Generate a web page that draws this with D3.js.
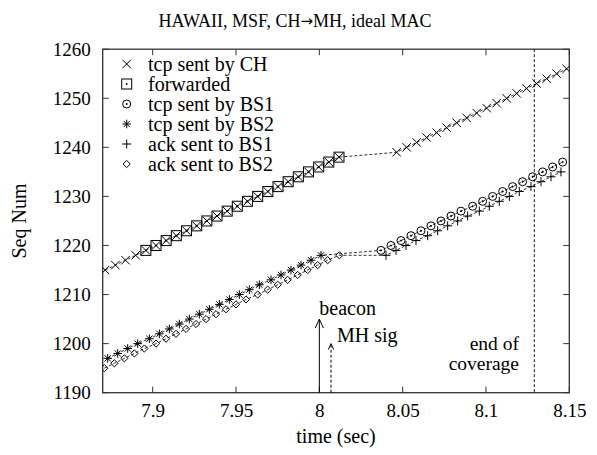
<!DOCTYPE html>
<html><head><meta charset="utf-8">
<script src="https://cdn.jsdelivr.net/npm/d3@7"></script>
<style>body{margin:0;background:#fff}svg{display:block}text{font-family:"Liberation Serif","Times New Roman",serif;fill:#000}</style>
</head><body>
<svg id="c" width="597" height="455"></svg>
<script>
// ---- data ----
const titleParts = ["HAWAII, MSF, CH", "\u2192", "MH, ideal MAC"];
const xTicks = [7.9, 7.95, 8, 8.05, 8.1, 8.15];
const yTicks = [1190, 1200, 1210, 1220, 1230, 1240, 1250, 1260];

const chTime = [7.8715,7.8776,7.8837,7.8898,7.8959,7.9020,7.9081,7.9142,7.9203,7.9264,7.9325,7.9386,7.9447,7.9508,7.9569,7.9630,7.9691,7.9752,7.9813,7.9874,7.9935,7.9996,8.0057,8.0118,
  8.0464,8.0524,8.0584,8.0644,8.0704,8.0764,8.0824,8.0884,8.0944,8.1004,8.1064,8.1124,8.1184,8.1244,8.1304,8.1364,8.1424,8.1484];
const chSeq = [1215,1216,1217,1218,1219,1220,1221,1222,1223,1224,1225,1226,1227,1228,1229,1230,1231,1232,1233,1234,1235,1236,1237,1238,
  1239,1240,1241,1242,1243,1244,1245,1246,1247,1248,1249,1250,1251,1252,1253,1254,1255,1256];

const fwdTime = [7.8959,7.9020,7.9081,7.9142,7.9203,7.9264,7.9325,7.9386,7.9447,7.9508,7.9569,7.9630,7.9691,7.9752,7.9813,7.9874,7.9935,7.9996,8.0057,8.0118];
const fwdSeq = [1219,1220,1221,1222,1223,1224,1225,1226,1227,1228,1229,1230,1231,1232,1233,1234,1235,1236,1237,1238];

const bs1Time = [8.037,8.043,8.049,8.055,8.061,8.067,8.073,8.079,8.085,8.092,8.098,8.104,8.110,8.116,8.122,8.128,8.134,8.140,8.146];
const bs1Seq = [1219,1220,1221,1222,1223,1224,1225,1226,1227,1228,1229,1230,1231,1232,1233,1234,1235,1236,1237];

const bs2Time = [7.873,7.879,7.885,7.891,7.898,7.904,7.910,7.916,7.922,7.928,7.934,7.940,7.946,7.952,7.958,7.964,7.971,7.977,7.983,7.989,7.995,8.001];
const bs2Seq = [1197,1198,1199,1200,1201,1202,1203,1204,1205,1206,1207,1208,1209,1210,1211,1212,1213,1214,1215,1216,1217,1218];

const ack1Time = [8.040,8.046,8.052,8.058,8.065,8.071,8.077,8.083,8.089,8.096,8.102,8.108,8.114,8.120,8.127,8.133,8.139,8.145];
const ack1Seq = [1218,1219,1220,1221,1222,1223,1224,1225,1226,1227,1228,1229,1230,1231,1232,1233,1234,1235];

const ack2Time = [7.871,7.877,7.883,7.889,7.895,7.902,7.908,7.914,7.920,7.926,7.932,7.938,7.944,7.950,7.956,7.963,7.969,7.975,7.981,7.987,7.993,7.999,8.005,8.012];
const ack2Seq = [1195,1196,1197,1198,1199,1200,1201,1202,1203,1204,1205,1206,1207,1208,1209,1210,1211,1212,1213,1214,1215,1216,1217,1218];

const beacon = {t: 8.0, top: 1205, label: "beacon"};
const mhSig = {t: 8.007, top: 1200, label: "MH sig"};
const endCoverage = {t: 8.129, label: ["end of", "coverage"]};

const legendLabels = ["tcp sent by CH","forwarded","tcp sent by BS1","tcp sent by BS2","ack sent to BS1","ack sent to BS2"];

// ---- layout ----
const L = 102.7, R = 569.3, T = 49.2, B = 392.7;
const x = d3.scaleLinear().domain([7.87, 8.15]).range([L, R]);
const y = d3.scaleLinear().domain([1190, 1260]).range([B, T]);
const svg = d3.select("#c");
const zip = (a, b) => a.map((v, i) => [v, b[i]]);

// title & labels
const tt = svg.append("text").attr("x", 295).attr("y", 27).attr("text-anchor", "middle").attr("font-size", 18);
tt.append("tspan").text(titleParts[0]);
tt.append("tspan").attr("font-family", "DejaVu Sans").attr("font-size", 15).attr("dy", -1).text(titleParts[1]);
tt.append("tspan").attr("dy", 1).text(titleParts[2]);
svg.append("text").attr("x", 336).attr("y", 443).attr("text-anchor", "middle").attr("font-size", 20).text("time (sec)");
svg.append("text").attr("transform", "translate(26,221) rotate(-90)").attr("text-anchor", "middle").attr("font-size", 20).text("Seq Num");

// axes
const fmt = d => String(+d.toFixed(2));
const gx = svg.append("g").attr("transform", `translate(0,${B})`).call(d3.axisBottom(x).tickValues(xTicks).tickSize(0).tickPadding(11).tickFormat(fmt));
gx.selectAll("text").attr("font-size", 19).attr("font-family", "Liberation Serif").attr("dy", "0.71em");
gx.select(".domain").remove();
const gy = svg.append("g").attr("transform", `translate(${L},0)`).call(d3.axisLeft(y).tickValues(yTicks).tickSize(0).tickPadding(12).tickFormat(d3.format("d")));
gy.selectAll("text").attr("font-size", 19).attr("font-family", "Liberation Serif");
gy.select(".domain").remove();

const tickLen = 6, frameCol = "#333";
const tk = svg.append("g").attr("stroke", frameCol).attr("stroke-width", 1);
xTicks.forEach(v => {
  tk.append("line").attr("x1", x(v)).attr("x2", x(v)).attr("y1", B).attr("y2", B - tickLen);
  tk.append("line").attr("x1", x(v)).attr("x2", x(v)).attr("y1", T).attr("y2", T + tickLen);
});
yTicks.forEach(v => {
  tk.append("line").attr("x1", L).attr("x2", L + tickLen).attr("y1", y(v)).attr("y2", y(v));
  tk.append("line").attr("x1", R).attr("x2", R - tickLen).attr("y1", y(v)).attr("y2", y(v));
});
svg.append("rect").attr("x", L).attr("y", T).attr("width", R - L).attr("height", B - T)
  .attr("fill", "none").attr("stroke", frameCol).attr("stroke-width", 1.3);

// lines
const line = d3.line().x(d => x(d[0])).y(d => y(d[1]));
const dash = "3,2";
const plot = svg.append("g");
[zip(chTime, chSeq), zip(bs2Time.concat(bs1Time), bs2Seq.concat(bs1Seq)), zip(ack2Time.concat(ack1Time), ack2Seq.concat(ack1Seq))]
  .forEach(pts => plot.append("path").attr("d", line(pts)).attr("fill", "none").attr("stroke", "#000").attr("stroke-width", 0.8).attr("stroke-dasharray", dash));

// vertical markers
plot.append("line").attr("x1", x(endCoverage.t)).attr("x2", x(endCoverage.t)).attr("y1", T).attr("y2", B)
  .attr("stroke", "#000").attr("stroke-width", 0.9).attr("stroke-dasharray", dash);
function arrow(a, dashed, head) {
  const xx = x(a.t), yt = y(a.top);
  const g = plot.append("g").attr("stroke", "#000").attr("fill", "none").attr("stroke-width", 1);
  g.append("line").attr("x1", xx).attr("x2", xx).attr("y1", B).attr("y2", yt).attr("stroke-dasharray", dashed ? dash : null);
  g.append("path").attr("d", `M${xx - head * 0.45},${yt + head} L${xx},${yt} L${xx + head * 0.45},${yt + head}`);
}
arrow(beacon, false, 9);
arrow(mhSig, true, 6);
plot.append("text").attr("x", x(beacon.t)).attr("y", 315).attr("font-size", 20).text(beacon.label);
plot.append("text").attr("x", x(mhSig.t) + 6).attr("y", 342).attr("font-size", 20).text(mhSig.label);
plot.append("text").attr("x", 519).attr("y", 349.5).attr("text-anchor", "end").attr("font-size", 19.5).text(endCoverage.label[0]);
plot.append("text").attr("x", 519).attr("y", 370).attr("text-anchor", "end").attr("font-size", 19.5).text(endCoverage.label[1]);

// marker shapes
const shapes = {
  cross: (g, s) => g.append("path").attr("d", `M-${s},-${s}L${s},${s}M-${s},${s}L${s},-${s}`),
  square: (g, s) => { g.append("rect").attr("x", -s).attr("y", -s).attr("width", 2 * s).attr("height", 2 * s);
                      g.append("circle").attr("r", 0.6).attr("fill", "#000"); },
  circle: (g, s) => { g.append("circle").attr("r", s);
                      g.append("circle").attr("r", 0.6).attr("fill", "#000"); },
  star: (g, s) => { const d = s * 0.72; g.append("path")
                      .attr("d", `M0,-${s}L0,${s}M-${s},0L${s},0M-${d},-${d}L${d},${d}M-${d},${d}L${d},-${d}`); },
  plus: (g, s) => g.append("path").attr("d", `M0,-${s}L0,${s}M-${s},0L${s},0`),
  diamond: (g, s) => g.append("path").attr("d", `M0,-${s}L${s},0L0,${s}L-${s},0Z`)
};
const series = [
  {t: chTime, s: chSeq, shape: "cross", size: 4.2},
  {t: fwdTime, s: fwdSeq, shape: "square", size: 5},
  {t: bs1Time, s: bs1Seq, shape: "circle", size: 4},
  {t: bs2Time, s: bs2Seq, shape: "star", size: 4.3},
  {t: ack1Time, s: ack1Seq, shape: "plus", size: 4.5},
  {t: ack2Time, s: ack2Seq, shape: "diamond", size: 3.6}
];
svg.append("clipPath").attr("id", "pc").append("rect").attr("x", L).attr("y", T).attr("width", R - L).attr("height", B - T);
const mk = svg.append("g").attr("clip-path", "url(#pc)");
series.forEach(se => {
  const g = mk.append("g").attr("fill", "none").attr("stroke", "#000").attr("stroke-width", 1);
  zip(se.t, se.s).forEach(p => shapes[se.shape](g.append("g").attr("transform", `translate(${x(p[0])},${y(p[1])})`), se.size));
});

// legend
const lg = svg.append("g");
legendLabels.forEach((lab, i) => {
  const cy = 64 + i * 20;
  const g = lg.append("g").attr("transform", `translate(126.7,${cy})`).attr("fill", "none").attr("stroke", "#000").attr("stroke-width", 1);
  shapes[series[i].shape](g, series[i].size);
  lg.append("text").attr("x", 148).attr("y", cy + 6.5).attr("font-size", 20).text(lab);
});
</script>
</body></html>
